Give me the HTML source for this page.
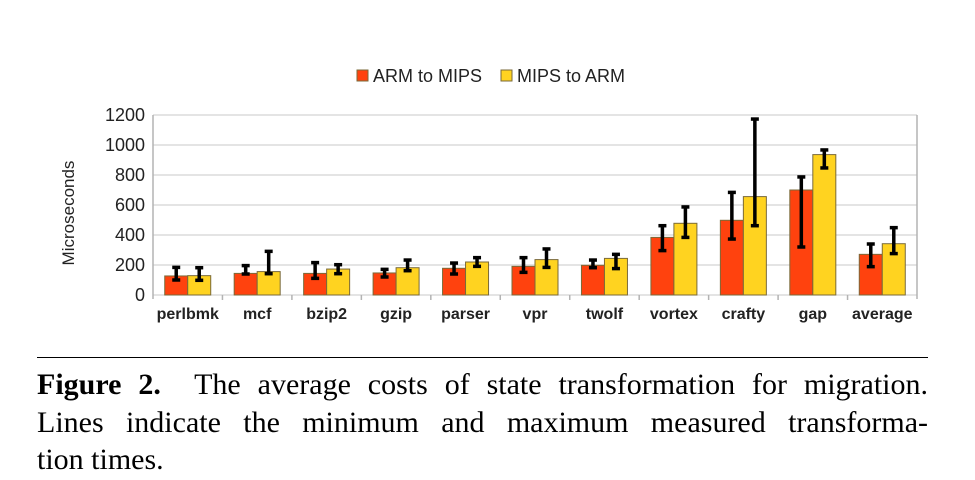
<!DOCTYPE html>
<html><head><meta charset="utf-8"><style>
body{margin:0;background:#fff;width:975px;height:480px;overflow:hidden;position:relative;font-family:"Liberation Sans",sans-serif}
.cap{position:absolute;left:37px;width:891px;font-family:"Liberation Serif",serif;font-size:30px;line-height:36px;color:#000;white-space:nowrap}
.j{text-align:justify;text-align-last:justify;white-space:normal}
</style></head><body>
<svg id="chart" width="975" height="350" style="position:absolute;left:0;top:0"></svg>
<div style="position:absolute;left:37px;top:357px;width:891px;height:1px;background:#000"></div>
<div class="cap j" style="top:367px"><b>Figure 2.</b>&nbsp; The average costs of state transformation for migration.</div>
<div class="cap j" style="top:405px">Lines indicate the minimum and maximum measured transforma-</div>
<div class="cap" style="top:442px">tion times.</div>
<script>
const categories=["perlbmk","mcf","bzip2","gzip","parser","vpr","twolf","vortex","crafty","gap","average"];
const armToMips=[127,144,144,147,178,191,198,384,498,700,271];
const armToMipsMin=[100,140,111,120,140,151,182,296,373,320,189];
const armToMipsMax=[184,196,216,171,213,249,233,462,684,787,340];
const mipsToArm=[129,156,173,182,220,236,244,478,656,936,342];
const mipsToArmMin=[98,142,142,162,191,184,176,384,462,847,276];
const mipsToArmMax=[182,291,202,233,249,307,271,587,1173,967,449];
const yTicks=[0,200,400,600,800,1000,1200];
const seriesNames=["ARM to MIPS","MIPS to ARM"];
const colors=["#ff420e","#ffd320"];
const svg=document.getElementById('chart');
const NS="http://www.w3.org/2000/svg";
const X0=153,X1=917,Y0=295,Y1=115,YMAX=1200;
const cw=(X1-X0)/categories.length,bw=23;
const y=v=>Y0-(v/YMAX)*(Y0-Y1);
function el(t,a,p){const e=document.createElementNS(NS,t);for(const k in a)e.setAttribute(k,a[k]);(p||svg).appendChild(e);return e;}
yTicks.forEach(t=>{
 const g=el('line',{x1:X0,x2:X1,y1:y(t),y2:y(t),stroke:'#c8c8c8','stroke-width':1});
 
 
 const tx=el('text',{x:X0-8,y:y(t)+6,'text-anchor':'end','font-size':18,fill:'#222'});
 tx.textContent=t;
 
 
});
el('line',{x1:X0,x2:X0,y1:Y1,y2:Y0+4,stroke:'#b3b3b3','stroke-width':1.5});
el('line',{x1:X1,x2:X1,y1:Y1,y2:Y0+4,stroke:'#b3b3b3','stroke-width':1.5});
for(let i=1;i<categories.length;i++)el('line',{x1:X0+i*cw,x2:X0+i*cw,y1:Y0,y2:Y0+5,stroke:'#b3b3b3','stroke-width':1.5});
const yt=el('text',{x:0,y:0,transform:'translate(74,213) rotate(-90)','text-anchor':'middle','font-size':17,fill:'#222'});
yt.textContent='Microseconds';


const vals=[armToMips,mipsToArm],mins=[armToMipsMin,mipsToArmMin],maxs=[armToMipsMax,mipsToArmMax];
categories.forEach((c,i)=>{
 const cx=X0+(i+0.5)*cw;
 for(let s=0;s<2;s++){
  const x=cx-bw+s*bw;
  const r=el('rect',{x:x,y:y(vals[s][i]),width:bw,height:Y0-y(vals[s][i]),fill:colors[s],stroke:'#7a6a3a','stroke-width':1});
  
  
  const ex=x+bw/2;
  const g=el('g',{stroke:'#000','stroke-width':3.5});
  
  
  el('line',{x1:ex,x2:ex,y1:y(mins[s][i]),y2:y(maxs[s][i])},g);
  el('line',{x1:ex-4,x2:ex+4,y1:y(mins[s][i]),y2:y(mins[s][i])},g);
  el('line',{x1:ex-4,x2:ex+4,y1:y(maxs[s][i]),y2:y(maxs[s][i])},g);
 }
 const l=el('text',{x:cx,y:319,'text-anchor':'middle','font-size':16,'font-weight':'bold',fill:'#222'});
 l.textContent=c;
 
 
});
const lx=[357,501];
seriesNames.forEach((n,s)=>{
 const r=el('rect',{x:lx[s],y:70,width:11,height:11,fill:colors[s],stroke:'#7a6a3a','stroke-width':1});
 
 
 const t=el('text',{x:lx[s]+16,y:82,'font-size':18,fill:'#222'});
 t.textContent=n;
 
 
});
</script>
</body></html>
